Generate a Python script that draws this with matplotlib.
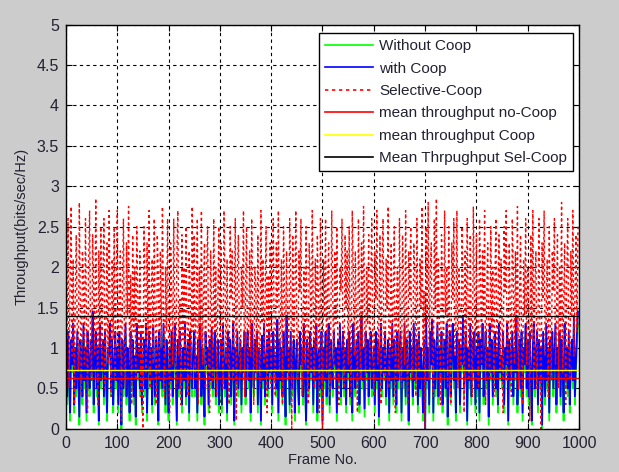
import numpy as np
import matplotlib
matplotlib.use("Agg")
import matplotlib.pyplot as plt

plt.rcParams['font.family'] = ['Liberation Sans', 'DejaVu Sans']

# frame numbers (one sample read every 2 frames)
frames = np.arange(0, 1000, 2)

# Selective-Coop throughput (red dotted)
sel_coop = [
    2.3, 1.1, 2.6, 0.5, 1.8, 2.75, 0.9, 2.1, 0.3, 1.6, 2.4, 1.2, 0.7, 2.8, 1.5, 0.4, 2.2, 1.9, 0.8, 2.6, 1.3, 0.2, 2.0, 2.7, 1.0,
    0.6, 2.4, 1.7, 0.9, 2.85, 1.4, 0.3, 2.2, 1.0, 2.5, 0.7, 1.9, 2.6, 0.5, 1.2, 2.3, 0.8, 2.7, 1.6, 0.4, 2.1, 1.1, 2.5, 0.6, 1.8,
    2.7, 0.9, 1.5, 2.2, 0.1, 1.7, 2.6, 1.0, 0.5, 2.3, 1.4, 2.75, 0.8, 1.9, 0.3, 2.4, 1.2, 2.0, 0.6, 2.5, 1.6, 0.9, 2.2, 0.4, 1.3,
    0.0, 2.5, 1.8, 0.7, 2.3, 1.1, 2.7, 0.5, 1.6, 2.1, 0.8, 2.6, 1.3, 0.3, 2.4, 1.9, 0.6, 2.2, 1.0, 2.75, 1.5, 0.4, 2.0, 1.2, 2.6,
    1.0, 0.2, 2.3, 1.7, 0.8, 2.6, 1.4, 0.5, 2.1, 2.7, 0.9, 1.6, 0.3, 2.4, 1.1, 2.0, 0.7, 2.5, 1.3, 0.4, 2.2, 1.8, 0.6, 2.75, 1.2,
    2.4, 0.7, 1.5, 2.6, 0.3, 2.0, 1.1, 2.7, 0.8, 1.7, 2.3, 0.5, 1.9, 2.5, 1.0, 0.2, 2.2, 1.4, 0.6, 2.6, 1.2, 2.0, 0.4, 1.6, 2.5,
    0.9, 2.3, 1.3, 0.5, 2.7, 1.8, 0.8, 2.1, 1.0, 0.3, 2.5, 1.6, 2.2, 0.6, 1.4, 2.6, 0.1, 1.9, 2.4, 1.1, 0.7, 2.0, 1.5, 2.7, 0.4,
    1.7, 2.5, 0.6, 1.2, 2.2, 0.9, 2.6, 1.5, 0.3, 2.0, 1.8, 0.7, 2.4, 1.1, 0.5, 2.7, 1.3, 2.1, 0.8, 1.6, 2.5, 0.2, 1.9, 1.0, 2.3,
    0.5, 1.8, 2.6, 1.0, 0.4, 2.3, 1.5, 2.7, 0.7, 1.2, 2.1, 0.3, 2.5, 1.7, 0.9, 2.2, 1.3, 0.6, 2.6, 1.9, 0.0, 2.4, 1.1, 1.6, 2.7,
    1.2, 0.6, 2.2, 1.7, 2.6, 0.4, 1.4, 2.0, 0.8, 2.5, 1.1, 0.3, 2.3, 1.9, 0.7, 2.7, 1.5, 0.5, 2.1, 1.0, 2.4, 1.6, 0.2, 2.6, 1.3,
    0.0, 2.1, 1.4, 2.6, 0.7, 1.8, 2.3, 0.4, 1.1, 2.7, 1.6, 0.6, 2.2, 1.3, 2.5, 0.9, 0.3, 2.0, 1.7, 2.6, 1.0, 0.5, 2.4, 1.5, 2.2,
    0.8, 2.5, 1.2, 0.4, 2.7, 1.9, 0.9, 2.2, 1.4, 0.2, 2.6, 1.7, 0.6, 2.3, 1.0, 2.75, 1.5, 0.5, 2.0, 1.3, 2.4, 0.7, 1.8, 2.6, 1.1,
    0.4, 2.2, 1.6, 2.7, 0.8, 1.3, 2.4, 0.3, 1.9, 2.6, 1.0, 0.6, 2.1, 1.5, 2.75, 0.5, 1.2, 2.3, 0.9, 1.7, 2.5, 0.2, 1.4, 2.0, 0.7,
    2.6, 1.1, 0.5, 2.4, 1.8, 0.8, 2.7, 1.3, 0.3, 2.2, 1.6, 2.5, 0.6, 1.0, 2.3, 1.9, 0.4, 2.6, 1.2, 0.7, 2.1, 1.5, 2.75, 0.9, 1.7,
    0.0, 2.5, 1.3, 2.8, 0.6, 1.9, 2.3, 1.0, 0.4, 2.6, 1.5, 2.85, 0.8, 2.1, 1.2, 0.3, 2.4, 1.7, 0.7, 2.7, 1.4, 2.0, 0.5, 2.5, 1.1,
    0.3, 2.3, 1.6, 2.6, 0.9, 1.2, 2.7, 0.5, 2.0, 1.4, 0.7, 2.5, 1.8, 0.2, 2.2, 1.0, 2.6, 1.5, 0.6, 2.4, 1.3, 0.4, 2.75, 1.7, 0.9,
    2.4, 1.1, 0.5, 2.6, 1.9, 0.8, 2.2, 1.4, 2.7, 0.3, 1.6, 2.3, 1.0, 0.6, 2.5, 1.2, 2.0, 0.4, 1.8, 2.6, 0.9, 1.5, 2.4, 0.7, 2.1,
    1.3, 0.2, 2.5, 1.7, 2.7, 0.6, 1.1, 2.3, 1.5, 0.4, 2.6, 1.9, 0.8, 2.2, 1.2, 2.75, 0.5, 1.6, 2.4, 1.0, 0.3, 2.1, 1.4, 2.6, 0.8,
    2.0, 1.5, 0.1, 2.4, 1.1, 2.7, 0.7, 1.8, 2.2, 0.5, 1.3, 2.6, 1.0, 0.0, 2.3, 1.6, 2.7, 0.9, 1.4, 2.1, 0.4, 2.5, 1.2, 0.6, 2.2,
    1.7, 2.6, 0.8, 1.3, 2.4, 0.5, 2.0, 1.1, 2.8, 0.7, 1.5, 2.3, 0.3, 1.9, 2.6, 1.0, 0.6, 2.2, 1.4, 2.7, 0.9, 1.6, 2.4, 1.2, 2.5,
]

# with Coop throughput (blue)
with_coop = [
    0.9, 0.4, 1.2, 0.6, 0.2, 1.1, 0.8, 1.3, 0.3, 1.0, 0.5, 1.2, 0.7, 0.15, 1.1, 0.9, 0.4, 1.3, 0.6, 1.0, 0.2, 1.2, 0.8, 0.5, 1.1,
    0.7, 1.45, 0.3, 0.9, 1.2, 0.5, 1.0, 0.1, 1.3, 0.6, 0.8, 1.1, 0.4, 1.2, 0.7, 0.2, 1.0, 0.9, 1.3, 0.5, 1.1, 0.3, 0.8, 1.2, 0.6,
    1.0, 0.3, 1.2, 0.7, 0.05, 1.1, 0.5, 0.9, 1.3, 0.4, 1.0, 0.8, 0.2, 1.2, 0.6, 1.1, 0.4, 0.9, 0.15, 1.3, 0.7, 1.0, 0.5, 1.2, 0.3,
    0.8, 1.1, 0.5, 1.3, 0.2, 0.9, 1.2, 0.6, 1.0, 0.3, 1.25, 0.7, 0.4, 1.1, 0.9, 0.1, 1.2, 0.6, 1.0, 0.5, 1.3, 0.8, 0.3, 1.1, 0.7,
    0.2, 1.0, 0.6, 1.2, 0.4, 0.9, 1.3, 0.7, 0.1, 1.1, 0.5, 1.2, 0.8, 0.3, 1.0, 0.6, 1.3, 0.4, 0.9, 1.1, 0.2, 1.2, 0.7, 0.5, 1.0,
    1.2, 0.5, 0.9, 0.2, 1.1, 0.7, 1.3, 0.4, 1.0, 0.6, 0.15, 1.2, 0.8, 1.0, 0.3, 1.1, 0.6, 1.25, 0.5, 0.9, 1.2, 0.4, 0.8, 1.1, 0.3,
    0.6, 1.1, 0.3, 1.3, 0.8, 0.5, 1.0, 0.2, 1.2, 0.7, 1.1, 0.4, 0.9, 1.3, 0.1, 1.0, 0.6, 1.2, 0.5, 0.8, 1.1, 0.3, 1.0, 0.7, 1.2,
    0.4, 0.9, 1.2, 0.6, 1.0, 0.2, 1.3, 0.8, 0.5, 1.1, 0.7, 1.2, 0.3, 1.0, 0.9, 0.1, 1.15, 0.6, 1.3, 0.4, 0.8, 1.1, 0.5, 1.2, 0.7,
    1.0, 0.3, 1.2, 0.7, 0.9, 0.5, 1.35, 0.2, 1.1, 0.6, 1.0, 0.4, 1.2, 0.8, 0.15, 1.4, 0.7, 1.0, 0.3, 1.2, 0.5, 0.9, 1.1, 0.2, 0.8,
    1.1, 0.6, 0.3, 1.2, 0.8, 1.0, 0.4, 1.3, 0.6, 0.1, 1.1, 0.9, 0.5, 1.2, 0.7, 1.0, 0.3, 1.1, 0.6, 1.3, 0.2, 0.9, 1.0, 0.5, 1.2,
    0.1, 1.0, 0.6, 1.2, 0.4, 0.9, 1.3, 0.3, 1.1, 0.7, 0.5, 1.2, 0.8, 1.0, 0.2, 1.1, 0.6, 1.3, 0.4, 0.9, 1.2, 0.5, 1.0, 0.3, 1.1,
    0.7, 1.2, 0.4, 1.0, 0.2, 1.3, 0.8, 0.5, 1.1, 0.6, 1.2, 0.3, 0.9, 1.4, 0.6, 1.0, 0.25, 1.2, 0.7, 1.1, 0.4, 0.9, 1.2, 0.5, 0.8,
    1.0, 0.3, 1.2, 0.6, 1.1, 0.15, 0.9, 1.3, 0.5, 1.0, 0.7, 1.2, 0.4, 0.8, 1.1, 0.2, 1.0, 0.6, 1.3, 0.4, 1.1, 0.8, 0.3, 1.2, 0.6,
    0.9, 1.2, 0.2, 1.0, 0.6, 1.3, 0.4, 1.1, 0.8, 0.1, 1.2, 0.7, 1.0, 0.4, 1.3, 0.6, 0.9, 1.1, 0.3, 1.2, 0.5, 1.0, 0.7, 0.2, 1.1,
    0.0, 1.4, 0.6, 1.0, 0.3, 1.2, 0.8, 1.35, 0.2, 1.1, 0.5, 0.9, 1.3, 0.4, 1.0, 0.7, 1.2, 0.3, 0.9, 1.1, 0.5, 1.3, 0.15, 0.8, 1.2,
    0.4, 1.0, 1.3, 0.6, 0.9, 0.2, 1.2, 0.7, 1.1, 0.3, 1.0, 0.8, 1.4, 0.5, 0.9, 1.2, 0.1, 1.0, 0.6, 1.3, 0.4, 1.1, 0.7, 1.2, 0.3,
    1.0, 0.5, 1.2, 0.2, 1.1, 0.8, 1.3, 0.4, 0.9, 1.2, 0.6, 1.0, 0.15, 1.3, 0.7, 1.1, 0.4, 0.9, 1.2, 0.5, 1.0, 0.3, 1.3, 0.7, 0.9,
    0.6, 1.2, 0.3, 1.0, 0.8, 1.3, 0.1, 1.1, 0.6, 0.9, 1.2, 0.4, 1.0, 0.7, 1.4, 0.3, 0.9, 1.1, 0.5, 1.2, 0.2, 1.0, 0.8, 1.3, 0.5,
    1.1, 0.4, 1.2, 0.7, 0.1, 1.0, 1.3, 0.5, 0.9, 1.2, 0.3, 1.1, 0.6, 1.0, 0.05, 1.2, 0.8, 0.4, 1.3, 0.6, 1.0, 0.2, 1.1, 0.7, 1.2,
    0.5, 0.9, 1.3, 0.3, 1.0, 0.7, 1.2, 0.4, 1.1, 0.8, 0.2, 1.3, 0.6, 1.0, 0.5, 1.2, 0.3, 0.9, 1.1, 0.6, 1.4, 0.4, 0.8, 1.2, 1.45,
]

# Without Coop throughput (green)
without_coop = [
    0.8, 0.3, 1.05, 0.5, 0.1, 0.95, 0.7, 1.15, 0.2, 0.9, 0.4, 1.05, 0.6, 0.05, 0.95, 0.8, 0.3, 1.1, 0.5, 0.9, 0.1, 1.05, 0.7, 0.4, 0.95,
    0.6, 1.25, 0.2, 0.8, 1.05, 0.4, 0.9, 0.05, 1.1, 0.5, 0.7, 0.95, 0.3, 1.05, 0.6, 0.1, 0.9, 0.8, 1.15, 0.4, 0.95, 0.2, 0.7, 1.05, 0.5,
    0.9, 0.2, 1.05, 0.6, 0.0, 0.95, 0.4, 0.8, 1.15, 0.3, 0.9, 0.7, 0.1, 1.05, 0.5, 0.95, 0.3, 0.8, 0.05, 1.1, 0.6, 0.9, 0.4, 1.05, 0.2,
    0.7, 0.95, 0.4, 1.15, 0.1, 0.8, 1.05, 0.5, 0.9, 0.2, 1.1, 0.6, 0.3, 0.95, 0.8, 0.05, 1.05, 0.5, 0.9, 0.4, 1.15, 0.7, 0.2, 0.95, 0.6,
    0.1, 0.9, 0.5, 1.05, 0.3, 0.8, 1.15, 0.6, 0.05, 0.95, 0.4, 1.05, 0.7, 0.2, 0.9, 0.5, 1.15, 0.3, 0.8, 0.95, 0.1, 1.05, 0.6, 0.4, 0.9,
    1.05, 0.4, 0.8, 0.1, 0.95, 0.6, 1.15, 0.3, 0.9, 0.5, 0.05, 1.05, 0.7, 0.9, 0.2, 0.95, 0.5, 1.1, 0.4, 0.8, 1.05, 0.3, 0.7, 0.95, 0.2,
    0.5, 0.95, 0.2, 1.15, 0.7, 0.4, 0.9, 0.1, 1.05, 0.6, 0.95, 0.3, 0.8, 1.15, 0.05, 0.9, 0.5, 1.05, 0.4, 0.7, 0.95, 0.2, 0.9, 0.6, 1.05,
    0.3, 0.8, 1.05, 0.5, 0.9, 0.1, 1.15, 0.7, 0.4, 0.95, 0.6, 1.05, 0.2, 0.9, 0.8, 0.05, 1.0, 0.5, 1.15, 0.3, 0.7, 0.95, 0.4, 1.05, 0.6,
    0.9, 0.2, 1.05, 0.6, 0.8, 0.4, 1.2, 0.1, 0.95, 0.5, 0.9, 0.3, 1.05, 0.7, 0.05, 1.25, 0.6, 0.9, 0.2, 1.05, 0.4, 0.8, 0.95, 0.1, 0.7,
    0.95, 0.5, 0.2, 1.05, 0.7, 0.9, 0.3, 1.15, 0.5, 0.05, 0.95, 0.8, 0.4, 1.05, 0.6, 0.9, 0.2, 0.95, 0.5, 1.15, 0.1, 0.8, 0.9, 0.4, 1.05,
    0.05, 0.9, 0.5, 1.05, 0.3, 0.8, 1.15, 0.2, 0.95, 0.6, 0.4, 1.05, 0.7, 0.9, 0.1, 0.95, 0.5, 1.15, 0.3, 0.8, 1.05, 0.4, 0.9, 0.2, 0.95,
    0.6, 1.05, 0.3, 0.9, 0.1, 1.15, 0.7, 0.4, 0.95, 0.5, 1.05, 0.2, 0.8, 1.3, 0.5, 0.9, 0.15, 1.05, 0.6, 0.95, 0.3, 0.8, 1.05, 0.4, 0.7,
    0.9, 0.2, 1.05, 0.5, 0.95, 0.05, 0.8, 1.15, 0.4, 0.9, 0.6, 1.05, 0.3, 0.7, 0.95, 0.1, 0.9, 0.5, 1.15, 0.3, 0.95, 0.7, 0.2, 1.05, 0.5,
    0.8, 1.05, 0.1, 0.9, 0.5, 1.15, 0.3, 0.95, 0.7, 0.05, 1.05, 0.6, 0.9, 0.3, 1.15, 0.5, 0.8, 0.95, 0.2, 1.05, 0.4, 0.9, 0.6, 0.1, 0.95,
    0.0, 1.25, 0.5, 0.9, 0.2, 1.05, 0.7, 1.2, 0.1, 0.95, 0.4, 0.8, 1.15, 0.3, 0.9, 0.6, 1.05, 0.2, 0.8, 0.95, 0.4, 1.15, 0.05, 0.7, 1.05,
    0.3, 0.9, 1.15, 0.5, 0.8, 0.1, 1.05, 0.6, 0.95, 0.2, 0.9, 0.7, 1.25, 0.4, 0.8, 1.05, 0.05, 0.9, 0.5, 1.15, 0.3, 0.95, 0.6, 1.05, 0.2,
    0.9, 0.4, 1.05, 0.1, 0.95, 0.7, 1.15, 0.3, 0.8, 1.05, 0.5, 0.9, 0.05, 1.15, 0.6, 0.95, 0.3, 0.8, 1.05, 0.4, 0.9, 0.2, 1.15, 0.6, 0.8,
    0.5, 1.05, 0.2, 0.9, 0.7, 1.15, 0.05, 0.95, 0.5, 0.8, 1.05, 0.3, 0.9, 0.6, 1.25, 0.2, 0.8, 0.95, 0.4, 1.05, 0.1, 0.9, 0.7, 1.15, 0.4,
    0.95, 0.3, 1.05, 0.6, 0.05, 0.9, 1.15, 0.4, 0.8, 1.05, 0.2, 0.95, 0.5, 0.9, 0.0, 1.05, 0.7, 0.3, 1.15, 0.5, 0.9, 0.1, 0.95, 0.6, 1.05,
    0.4, 0.8, 1.15, 0.2, 0.9, 0.6, 1.05, 0.3, 0.95, 0.7, 0.1, 1.15, 0.5, 0.9, 0.4, 1.05, 0.2, 0.8, 0.95, 0.5, 1.25, 0.3, 0.7, 1.05, 1.3,
]

# mean throughput levels (horizontal lines)
mean_no_coop = 0.63
mean_coop = 0.726
mean_sel_coop = 1.40

x_ticks = np.arange(0, 1001, 100)
y_ticks = np.arange(0, 5.01, 0.5)
y_ticklabels = ['0', '0.5', '1', '1.5', '2', '2.5', '3', '3.5', '4', '4.5', '5']

fig = plt.figure(figsize=(6.19, 4.72), dpi=100, facecolor='#cccccc')
ax = fig.add_axes([0.1066, 0.0917, 0.8288, 0.856])

ax.plot(frames, without_coop, color='#00ff00', lw=1.3, label='Without Coop')
ax.plot(frames, with_coop, color='#0000ff', lw=1.3, label='with Coop')
ax.plot(frames, sel_coop, color='#ff0000', lw=1.0, ls=(0, (2, 2.2)), label='Selective-Coop')
ax.axhline(mean_no_coop, color='#ff0000', lw=1.0, label='mean throughput no-Coop')
ax.axhline(mean_coop, color='#ffff00', lw=1.0, label='mean throughput Coop')
ax.axhline(mean_sel_coop, color='black', lw=1.0, label='Mean Thrpughput Sel-Coop')

ax.set_xlim(0, 1000)
ax.set_ylim(0, 5)
ax.set_xticks(x_ticks)
ax.set_yticks(y_ticks)
ax.set_yticklabels(y_ticklabels)
ax.grid(True, color='black', ls=(0, (3, 3)), lw=0.8)
ax.tick_params(direction='in', top=True, right=True, labelsize=11.5, colors='black',
               labelcolor='#222233', length=4, pad=5)
for s in ax.spines.values():
    s.set_linewidth(1.0)

ax.set_xlabel('Frame No.', fontsize=10.5, color='#222233', labelpad=2)
ax.set_ylabel('Throughput(bits/sec/Hz)', fontsize=10.5, color='#222233', labelpad=6)

leg = ax.legend(loc='upper right', bbox_to_anchor=(0.988, 0.979), borderaxespad=0,
                fancybox=False, framealpha=1, edgecolor='black', fontsize=11,
                handlelength=3.1, labelspacing=0.55, borderpad=0.4, handletextpad=0.4)
leg.get_frame().set_linewidth(1.0)
for line in leg.get_lines():
    line.set_linewidth(1.2)
for t in leg.get_texts():
    t.set_color('#222233')

fig.savefig('out.png', dpi=100, facecolor=fig.get_facecolor())
